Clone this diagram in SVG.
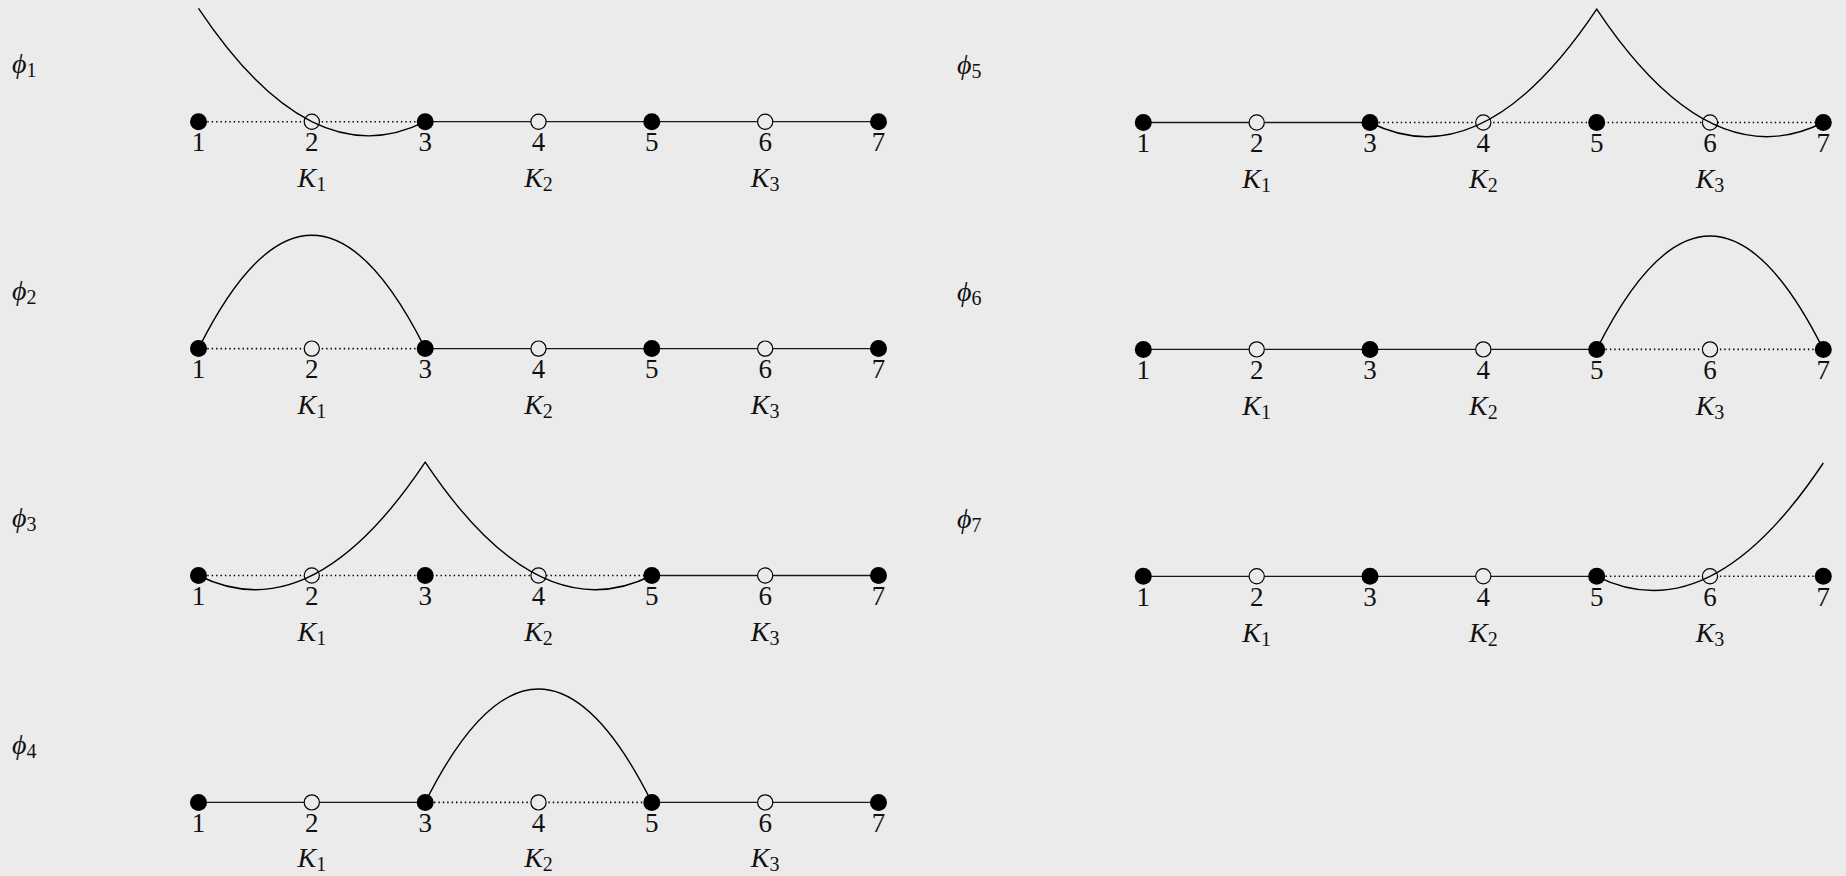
<svg xmlns="http://www.w3.org/2000/svg" width="1846" height="876" viewBox="0 0 1846 876">
<defs>
<style>
.bg{fill:#ebebeb}
.sol{stroke:#1a1a1a;stroke-width:1.3;fill:none}
.dot{stroke:#000;stroke-width:1.6;fill:none;stroke-dasharray:1.4 3}
.cur{stroke:#000;stroke-width:1.4;fill:none}
.fn{fill:#000}
.on{fill:#ebebeb;stroke:#000;stroke-width:1.2}
text{font-family:"Liberation Serif","DejaVu Serif",serif;fill:#111}
.num{font-size:27px;text-anchor:middle}
.k{font-size:28px;font-style:italic;text-anchor:middle}
.sub{font-size:20px;font-style:normal}
.phi{font-size:28px;font-style:italic}
</style>
</defs>
<rect class="bg" x="0" y="0" width="1846" height="876"/>

<g id="connectors">
<line class="dot" x1="198.5" y1="121.7" x2="425.2" y2="121.7"/>
<line class="sol" x1="425.2" y1="121.7" x2="878.5" y2="121.7"/>
<line class="dot" x1="198.5" y1="348.6" x2="425.2" y2="348.6"/>
<line class="sol" x1="425.2" y1="348.6" x2="878.5" y2="348.6"/>
<line class="dot" x1="198.5" y1="575.5" x2="651.8" y2="575.5"/>
<line class="sol" x1="651.8" y1="575.5" x2="878.5" y2="575.5"/>
<line class="sol" x1="198.5" y1="802.4" x2="425.2" y2="802.4"/>
<line class="dot" x1="425.2" y1="802.4" x2="651.8" y2="802.4"/>
<line class="sol" x1="651.8" y1="802.4" x2="878.5" y2="802.4"/>
<line class="sol" x1="1143.3" y1="122.5" x2="1370" y2="122.5"/>
<line class="dot" x1="1370" y1="122.5" x2="1823.3" y2="122.5"/>
<line class="sol" x1="1143.3" y1="349.4" x2="1596.7" y2="349.4"/>
<line class="dot" x1="1596.7" y1="349.4" x2="1823.3" y2="349.4"/>
<line class="sol" x1="1143.3" y1="576.3" x2="1596.7" y2="576.3"/>
<line class="dot" x1="1596.7" y1="576.3" x2="1823.3" y2="576.3"/>
</g>

<g id="phi-labels">
<text class="phi" x="12" y="73">ϕ<tspan class="sub" dy="4">1</tspan></text>
<text class="phi" x="12" y="300">ϕ<tspan class="sub" dy="4">2</tspan></text>
<text class="phi" x="12" y="527">ϕ<tspan class="sub" dy="4">3</tspan></text>
<text class="phi" x="12" y="754">ϕ<tspan class="sub" dy="4">4</tspan></text>
<text class="phi" x="957" y="74">ϕ<tspan class="sub" dy="4">5</tspan></text>
<text class="phi" x="957" y="301">ϕ<tspan class="sub" dy="4">6</tspan></text>
<text class="phi" x="957" y="528">ϕ<tspan class="sub" dy="4">7</tspan></text>
</g>

<g id="p1">
<g id="p1-n1"><circle class="fn" cx="198.5" cy="121.7" r="8.5"/><text class="num" x="198.5" y="151">1</text></g>
<g id="p1-n2"><circle class="on" cx="311.8" cy="121.7" r="7.6"/><text class="num" x="311.8" y="151">2</text><text class="k" x="311.8" y="187">K<tspan class="sub" dy="4">1</tspan></text></g>
<g id="p1-n3"><circle class="fn" cx="425.2" cy="121.7" r="8.5"/><text class="num" x="425.2" y="151">3</text></g>
<g id="p1-n4"><circle class="on" cx="538.5" cy="121.7" r="7.6"/><text class="num" x="538.5" y="151">4</text><text class="k" x="538.5" y="187">K<tspan class="sub" dy="4">2</tspan></text></g>
<g id="p1-n5"><circle class="fn" cx="651.8" cy="121.7" r="8.5"/><text class="num" x="651.8" y="151">5</text></g>
<g id="p1-n6"><circle class="on" cx="765.2" cy="121.7" r="7.6"/><text class="num" x="765.2" y="151">6</text><text class="k" x="765.2" y="187">K<tspan class="sub" dy="4">3</tspan></text></g>
<g id="p1-n7"><circle class="fn" cx="878.5" cy="121.7" r="8.5"/><text class="num" x="878.5" y="151">7</text></g>
</g>

<g id="p2">
<g id="p2-n1"><circle class="fn" cx="198.5" cy="348.6" r="8.5"/><text class="num" x="198.5" y="377.9">1</text></g>
<g id="p2-n2"><circle class="on" cx="311.8" cy="348.6" r="7.6"/><text class="num" x="311.8" y="377.9">2</text><text class="k" x="311.8" y="413.9">K<tspan class="sub" dy="4">1</tspan></text></g>
<g id="p2-n3"><circle class="fn" cx="425.2" cy="348.6" r="8.5"/><text class="num" x="425.2" y="377.9">3</text></g>
<g id="p2-n4"><circle class="on" cx="538.5" cy="348.6" r="7.6"/><text class="num" x="538.5" y="377.9">4</text><text class="k" x="538.5" y="413.9">K<tspan class="sub" dy="4">2</tspan></text></g>
<g id="p2-n5"><circle class="fn" cx="651.8" cy="348.6" r="8.5"/><text class="num" x="651.8" y="377.9">5</text></g>
<g id="p2-n6"><circle class="on" cx="765.2" cy="348.6" r="7.6"/><text class="num" x="765.2" y="377.9">6</text><text class="k" x="765.2" y="413.9">K<tspan class="sub" dy="4">3</tspan></text></g>
<g id="p2-n7"><circle class="fn" cx="878.5" cy="348.6" r="8.5"/><text class="num" x="878.5" y="377.9">7</text></g>
</g>

<g id="p3">
<g id="p3-n1"><circle class="fn" cx="198.5" cy="575.5" r="8.5"/><text class="num" x="198.5" y="604.8">1</text></g>
<g id="p3-n2"><circle class="on" cx="311.8" cy="575.5" r="7.6"/><text class="num" x="311.8" y="604.8">2</text><text class="k" x="311.8" y="640.8">K<tspan class="sub" dy="4">1</tspan></text></g>
<g id="p3-n3"><circle class="fn" cx="425.2" cy="575.5" r="8.5"/><text class="num" x="425.2" y="604.8">3</text></g>
<g id="p3-n4"><circle class="on" cx="538.5" cy="575.5" r="7.6"/><text class="num" x="538.5" y="604.8">4</text><text class="k" x="538.5" y="640.8">K<tspan class="sub" dy="4">2</tspan></text></g>
<g id="p3-n5"><circle class="fn" cx="651.8" cy="575.5" r="8.5"/><text class="num" x="651.8" y="604.8">5</text></g>
<g id="p3-n6"><circle class="on" cx="765.2" cy="575.5" r="7.6"/><text class="num" x="765.2" y="604.8">6</text><text class="k" x="765.2" y="640.8">K<tspan class="sub" dy="4">3</tspan></text></g>
<g id="p3-n7"><circle class="fn" cx="878.5" cy="575.5" r="8.5"/><text class="num" x="878.5" y="604.8">7</text></g>
</g>

<g id="p4">
<g id="p4-n1"><circle class="fn" cx="198.5" cy="802.4" r="8.5"/><text class="num" x="198.5" y="831.7">1</text></g>
<g id="p4-n2"><circle class="on" cx="311.8" cy="802.4" r="7.6"/><text class="num" x="311.8" y="831.7">2</text><text class="k" x="311.8" y="867.4">K<tspan class="sub" dy="4">1</tspan></text></g>
<g id="p4-n3"><circle class="fn" cx="425.2" cy="802.4" r="8.5"/><text class="num" x="425.2" y="831.7">3</text></g>
<g id="p4-n4"><circle class="on" cx="538.5" cy="802.4" r="7.6"/><text class="num" x="538.5" y="831.7">4</text><text class="k" x="538.5" y="867.4">K<tspan class="sub" dy="4">2</tspan></text></g>
<g id="p4-n5"><circle class="fn" cx="651.8" cy="802.4" r="8.5"/><text class="num" x="651.8" y="831.7">5</text></g>
<g id="p4-n6"><circle class="on" cx="765.2" cy="802.4" r="7.6"/><text class="num" x="765.2" y="831.7">6</text><text class="k" x="765.2" y="867.4">K<tspan class="sub" dy="4">3</tspan></text></g>
<g id="p4-n7"><circle class="fn" cx="878.5" cy="802.4" r="8.5"/><text class="num" x="878.5" y="831.7">7</text></g>
</g>

<g id="p5">
<g id="p5-n1"><circle class="fn" cx="1143.3" cy="122.5" r="8.5"/><text class="num" x="1143.3" y="151.8">1</text></g>
<g id="p5-n2"><circle class="on" cx="1256.7" cy="122.5" r="7.6"/><text class="num" x="1256.7" y="151.8">2</text><text class="k" x="1256.7" y="187.8">K<tspan class="sub" dy="4">1</tspan></text></g>
<g id="p5-n3"><circle class="fn" cx="1370" cy="122.5" r="8.5"/><text class="num" x="1370" y="151.8">3</text></g>
<g id="p5-n4"><circle class="on" cx="1483.3" cy="122.5" r="7.6"/><text class="num" x="1483.3" y="151.8">4</text><text class="k" x="1483.3" y="187.8">K<tspan class="sub" dy="4">2</tspan></text></g>
<g id="p5-n5"><circle class="fn" cx="1596.7" cy="122.5" r="8.5"/><text class="num" x="1596.7" y="151.8">5</text></g>
<g id="p5-n6"><circle class="on" cx="1710" cy="122.5" r="7.6"/><text class="num" x="1710" y="151.8">6</text><text class="k" x="1710" y="187.8">K<tspan class="sub" dy="4">3</tspan></text></g>
<g id="p5-n7"><circle class="fn" cx="1823.3" cy="122.5" r="8.5"/><text class="num" x="1823.3" y="151.8">7</text></g>
</g>

<g id="p6">
<g id="p6-n1"><circle class="fn" cx="1143.3" cy="349.4" r="8.5"/><text class="num" x="1143.3" y="378.7">1</text></g>
<g id="p6-n2"><circle class="on" cx="1256.7" cy="349.4" r="7.6"/><text class="num" x="1256.7" y="378.7">2</text><text class="k" x="1256.7" y="414.7">K<tspan class="sub" dy="4">1</tspan></text></g>
<g id="p6-n3"><circle class="fn" cx="1370" cy="349.4" r="8.5"/><text class="num" x="1370" y="378.7">3</text></g>
<g id="p6-n4"><circle class="on" cx="1483.3" cy="349.4" r="7.6"/><text class="num" x="1483.3" y="378.7">4</text><text class="k" x="1483.3" y="414.7">K<tspan class="sub" dy="4">2</tspan></text></g>
<g id="p6-n5"><circle class="fn" cx="1596.7" cy="349.4" r="8.5"/><text class="num" x="1596.7" y="378.7">5</text></g>
<g id="p6-n6"><circle class="on" cx="1710" cy="349.4" r="7.6"/><text class="num" x="1710" y="378.7">6</text><text class="k" x="1710" y="414.7">K<tspan class="sub" dy="4">3</tspan></text></g>
<g id="p6-n7"><circle class="fn" cx="1823.3" cy="349.4" r="8.5"/><text class="num" x="1823.3" y="378.7">7</text></g>
</g>

<g id="p7">
<g id="p7-n1"><circle class="fn" cx="1143.3" cy="576.3" r="8.5"/><text class="num" x="1143.3" y="605.6">1</text></g>
<g id="p7-n2"><circle class="on" cx="1256.7" cy="576.3" r="7.6"/><text class="num" x="1256.7" y="605.6">2</text><text class="k" x="1256.7" y="641.6">K<tspan class="sub" dy="4">1</tspan></text></g>
<g id="p7-n3"><circle class="fn" cx="1370" cy="576.3" r="8.5"/><text class="num" x="1370" y="605.6">3</text></g>
<g id="p7-n4"><circle class="on" cx="1483.3" cy="576.3" r="7.6"/><text class="num" x="1483.3" y="605.6">4</text><text class="k" x="1483.3" y="641.6">K<tspan class="sub" dy="4">2</tspan></text></g>
<g id="p7-n5"><circle class="fn" cx="1596.7" cy="576.3" r="8.5"/><text class="num" x="1596.7" y="605.6">5</text></g>
<g id="p7-n6"><circle class="on" cx="1710" cy="576.3" r="7.6"/><text class="num" x="1710" y="605.6">6</text><text class="k" x="1710" y="641.6">K<tspan class="sub" dy="4">3</tspan></text></g>
<g id="p7-n7"><circle class="fn" cx="1823.3" cy="576.3" r="8.5"/><text class="num" x="1823.3" y="605.6">7</text></g>
</g>

<g id="curves">
<path class="cur" d="M198.5,8.4 Q311.8,178.4 425.2,121.7"/>
<path class="cur" d="M198.5,348.6 Q311.8,121.9 425.2,348.6"/>
<path class="cur" d="M198.5,575.5 Q311.8,632.2 425.2,462.2 Q538.5,632.2 651.8,575.5"/>
<path class="cur" d="M425.2,802.4 Q538.5,575.7 651.8,802.4"/>
<path class="cur" d="M1370,122.5 Q1483.3,179.2 1596.7,9.2 Q1710,179.2 1823.3,122.5"/>
<path class="cur" d="M1596.7,349.4 Q1710,122.7 1823.3,349.4"/>
<path class="cur" d="M1596.7,576.3 Q1710,633 1823.3,463"/>
</g>
</svg>
